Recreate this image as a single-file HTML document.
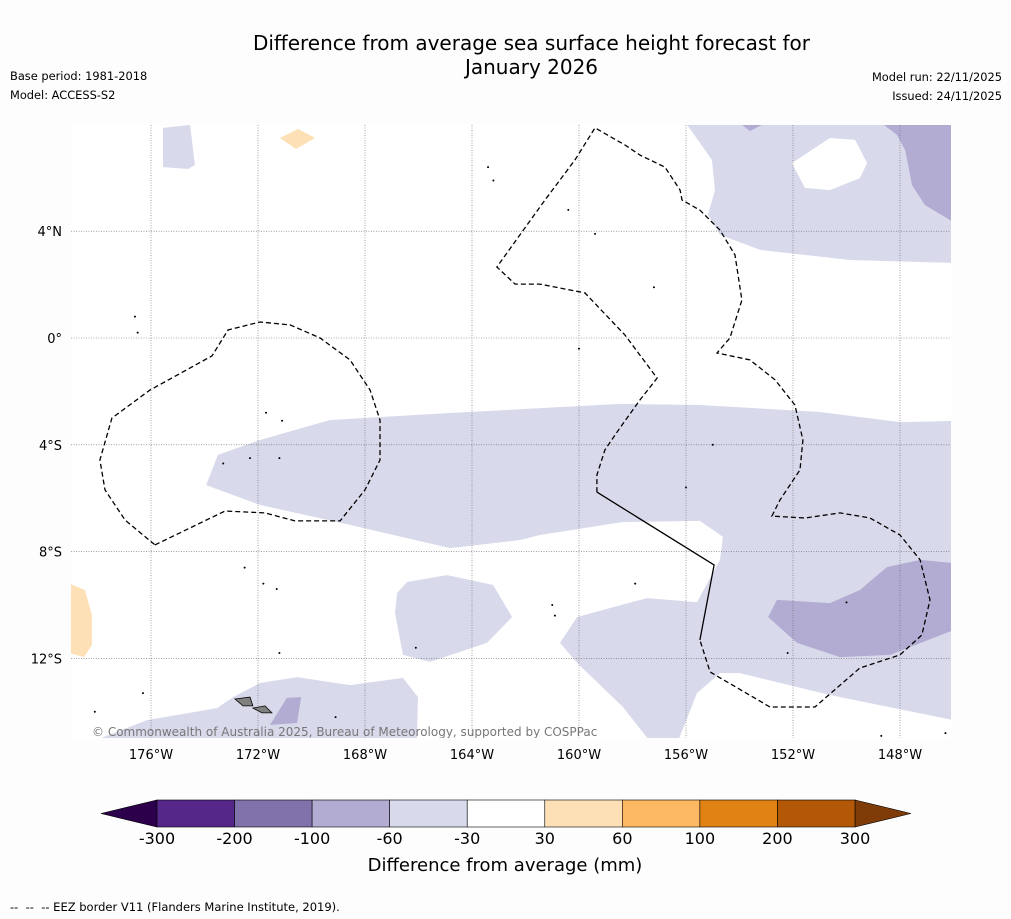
<!DOCTYPE html>
<html><head><meta charset="utf-8"><style>
body{margin:0;background:#fdfdfd;font-family:"Liberation Sans","DejaVu Sans",sans-serif;}
#wrap{position:relative;width:1011px;height:919px;overflow:hidden;background:#fdfdfd}
.t{position:absolute;color:#000;white-space:nowrap}
</style></head><body>
<div id="wrap">
<div class="t" style="left:0;width:1063px;text-align:center;top:31px;font-size:20px;line-height:24px;font-family:'DejaVu Sans',sans-serif">Difference from average sea surface height forecast for<br>January 2026</div>
<div class="t" style="left:10px;top:69px;font-size:11.4px;font-family:'DejaVu Sans',sans-serif">Base period: 1981-2018</div>
<div class="t" style="left:10px;top:88px;font-size:11.4px;font-family:'DejaVu Sans',sans-serif">Model: ACCESS-S2</div>
<div class="t" style="right:9px;top:70px;font-size:11.4px;font-family:'DejaVu Sans',sans-serif">Model run: 22/11/2025</div>
<div class="t" style="right:9px;top:89px;font-size:11.4px;font-family:'DejaVu Sans',sans-serif">Issued: 24/11/2025</div>
<svg id="svg" width="1011" height="919" style="position:absolute;left:0;top:0"></svg>
<div class="t" style="left:10px;top:900px;font-size:11.5px;font-family:'DejaVu Sans',sans-serif">--&nbsp; --&nbsp; -- EEZ border V11 (Flanders Marine Institute, 2019).</div>
</div>
<script>
const lonTicks=[-176,-172,-168,-164,-160,-156,-152,-148];
const latTicks=[4,0,-4,-8,-12];
const lonLabels=["176°W","172°W","168°W","164°W","160°W","156°W","152°W","148°W"];
const latLabels=["4°N","0°","4°S","8°S","12°S"];
const cbLevels=[-300,-200,-100,-60,-30,30,60,100,200,300];
const cbColors=["#542788","#8073ac","#b2abd2","#d8daeb","#ffffff","#fee0b6","#fdb863","#e08214","#b35806"];
const cbUnder="#2d004b", cbOver="#7f3b08";
const polyLight=[
 [[-173.94,-5.51],[-173.5,-4.38],[-171.93,-3.82],[-169.31,-3.07],[-164.82,-2.81],[-158.47,-2.47],[-155.48,-2.51],[-151.0,-2.77],[-148.0,-3.15],[-146.0,-3.11],[-146.0,-14.31],[-150.62,-13.37],[-153.98,-12.55],[-154.73,-12.55],[-155.59,-13.3],[-156.3,-15.1],[-157.35,-15.1],[-158.36,-13.82],[-160.07,-12.17],[-160.71,-11.42],[-160.07,-10.45],[-157.46,-9.74],[-155.59,-9.89],[-154.73,-8.31],[-154.62,-7.45],[-155.48,-6.85],[-158.36,-6.89],[-161.46,-7.38],[-162.21,-7.57],[-164.82,-7.87],[-168.56,-7.0],[-171.93,-6.25]],
 [[-156.04,8.1],[-155.03,6.67],[-154.92,5.54],[-155.18,4.61],[-154.73,3.86],[-153.23,3.3],[-149.87,2.92],[-146.0,2.81],[-146.0,8.1]],
 [[-175.55,7.87],[-174.54,7.98],[-174.36,6.48],[-174.62,6.33],[-175.55,6.4]],
 [[-166.8,-9.55],[-166.43,-9.14],[-164.93,-8.88],[-163.21,-9.25],[-162.5,-10.45],[-163.44,-11.42],[-165.57,-12.13],[-166.58,-11.87],[-166.88,-10.3]],
 [[-178.17,-15.1],[-176.15,-14.31],[-173.53,-13.86],[-172.93,-13.45],[-171.93,-12.92],[-170.54,-12.7],[-168.56,-13.0],[-166.58,-12.73],[-166.02,-13.45],[-166.06,-15.1]]
];
const polyWhite=[[[-152.04,6.55],[-150.62,7.49],[-149.68,7.42],[-149.23,6.55],[-149.5,5.99],[-150.62,5.54],[-151.55,5.62]]];
const polyMed=[
 [[-152.93,-10.45],[-152.6,-9.81],[-150.62,-9.93],[-149.5,-9.44],[-148.49,-8.58],[-147.25,-8.31],[-146.0,-8.43],[-146.0,-10.94],[-148.37,-11.87],[-150.24,-11.95],[-151.85,-11.42]],
 [[-148.75,8.1],[-148.11,7.6],[-147.81,7.04],[-147.55,5.73],[-147.07,4.98],[-146.0,4.34],[-146.0,8.1]],
 [[-154.06,8.1],[-153.61,7.75],[-152.93,8.1]],
 [[-171.55,-14.49],[-170.92,-13.48],[-170.39,-13.45],[-170.54,-14.42]]
];
const polyOrange=[
 [[-171.18,7.49],[-170.5,7.83],[-169.87,7.49],[-170.58,7.08]],
 [[-179.2,-9.14],[-178.47,-9.44],[-178.21,-10.37],[-178.21,-11.5],[-178.5,-11.95],[-179.2,-11.76]]
];
const islands=[[[-172.86,-13.52],[-172.3,-13.45],[-172.19,-13.78],[-172.56,-13.78]],[[-172.19,-13.86],[-171.74,-13.78],[-171.48,-14.04],[-171.85,-14.04]]];
const eezLeft=[[-175.85,-7.75],[-173.23,-6.48],[-171.74,-6.55],[-170.62,-6.85],[-168.93,-6.85],[-168.0,-5.69],[-167.44,-4.57],[-167.44,-3.07],[-167.81,-1.95],[-168.56,-0.82],[-169.68,0],[-170.8,0.49],[-171.93,0.6],[-173.12,0.3],[-173.72,-0.67],[-176.04,-1.95],[-177.46,-3.0],[-177.91,-4.57],[-177.72,-5.69],[-176.97,-6.82],[-175.85,-7.75]];
const eezMid=[[-159.33,-5.77],[-159.33,-5.13],[-159.03,-4.19],[-158.47,-3.37],[-157.72,-2.32],[-157.08,-1.5],[-158.28,0.11],[-159.78,1.69],[-161.46,2.02],[-162.39,2.02],[-163.07,2.66],[-162.21,3.86],[-161.27,5.17],[-160.15,6.67],[-159.4,7.87],[-158.28,7.23],[-157.72,6.85],[-156.79,6.4],[-156.22,5.54],[-156.15,5.17],[-155.48,4.79],[-154.73,4.04],[-154.17,3.11],[-153.91,1.42],[-154.36,0],[-154.84,-0.56],[-153.61,-0.82],[-152.67,-1.57],[-151.93,-2.51],[-151.63,-3.82],[-151.74,-4.94],[-152.49,-6.07],[-152.79,-6.67],[-151.55,-6.74],[-150.24,-6.55],[-149.12,-6.74],[-148.0,-7.38],[-147.25,-8.31],[-146.88,-9.81],[-147.18,-11.12],[-148.0,-11.87],[-149.5,-12.36],[-151.18,-13.82],[-152.86,-13.82],[-155.1,-12.51],[-155.48,-11.31]];
const borderSolid=[[-159.33,-5.77],[-154.95,-8.5],[-155.48,-11.31]];
const dots=[[-176.6,0.8],[-176.5,0.2],[-171.7,-2.8],[-171.1,-3.1],[-172.3,-4.5],[-171.2,-4.5],[-173.3,-4.7],[-163.4,6.4],[-163.2,5.9],[-160.4,4.8],[-159.4,3.9],[-157.2,1.9],[-160.0,-0.4],[-155.0,-4.0],[-156.0,-5.6],[-172.5,-8.6],[-171.8,-9.2],[-171.3,-9.4],[-171.2,-11.8],[-166.1,-11.6],[-161.0,-10.0],[-160.9,-10.4],[-157.9,-9.2],[-150.0,-9.9],[-152.2,-11.8],[-176.3,-13.3],[-178.1,-14.0],[-169.1,-14.2],[-148.7,-14.9],[-146.3,-14.8]];

const X=lon=>151+(lon+176)*26.75, Y=lat=>338-lat*26.7;
const L=71,R=951,T=125,B=738;
const svg=document.getElementById('svg');
const NS='http://www.w3.org/2000/svg';
function mk(tag,at,parent){const e=document.createElementNS(NS,tag);for(const k in at)e.setAttribute(k,at[k]);(parent||svg).appendChild(e);return e;}
const pts=p=>p.map(q=>X(q[0]).toFixed(1)+','+Y(q[1]).toFixed(1)).join(' ');
const defs=mk('defs',{});const cp=mk('clipPath',{id:'clip'},defs);mk('rect',{x:L,y:T,width:R-L,height:B-T},cp);
const g=mk('g',{'clip-path':'url(#clip)'});


mk('rect',{x:L,y:T,width:R-L,height:B-T,fill:'#ffffff'},g);
function fillPolys(arr,col,name){arr.forEach(p=>{const e=mk('polygon',{points:pts(p),fill:col},g);

});}
fillPolys(polyLight,cbColors[3],'anomaly-region-light');
fillPolys(polyWhite,'#ffffff','anomaly-region-neutral');
fillPolys(polyMed,cbColors[2],'anomaly-region-medium');
fillPolys(polyOrange,cbColors[5],'anomaly-region-positive');
lonTicks.forEach(v=>{const e=mk('line',{x1:X(v),x2:X(v),y1:T,y2:B,stroke:'#666','stroke-width':0.6,'stroke-dasharray':'1,1.5'},g);

});
latTicks.forEach(v=>{const e=mk('line',{x1:L,x2:R,y1:Y(v),y2:Y(v),stroke:'#666','stroke-width':0.6,'stroke-dasharray':'1,1.5'},g);

});
islands.forEach(p=>{const e=mk('polygon',{points:pts(p),fill:'#808080',stroke:'#000','stroke-width':0.8},g);

});
dots.forEach(d=>{const e=mk('circle',{cx:X(d[0]),cy:Y(d[1]),r:1,fill:'#000'},g);

});
[eezLeft,eezMid].forEach(p=>{const e=mk('polyline',{points:pts(p),fill:'none',stroke:'#000','stroke-width':1.3,'stroke-dasharray':'5,3'},g);

});
{const e=mk('polyline',{points:pts(borderSolid),fill:'none',stroke:'#000','stroke-width':1.3},g);

}
{const e=mk('text',{x:92,y:736,'font-size':12,fill:'#777','font-family':'DejaVu Sans, sans-serif'},g);e.textContent='© Commonwealth of Australia 2025, Bureau of Meteorology, supported by COSPPac';

}
lonTicks.forEach((v,i)=>{const e=mk('text',{x:X(v),y:759,'font-size':13,'text-anchor':'middle','font-family':'DejaVu Sans, sans-serif'});e.textContent=lonLabels[i];

});
latTicks.forEach((v,i)=>{const e=mk('text',{x:62,y:Y(v)+5,'font-size':13,'text-anchor':'end','font-family':'DejaVu Sans, sans-serif'});e.textContent=latLabels[i];

});
const cbL=157,cbR=855,cbT=800,cbB=827,n=cbColors.length,w=(cbR-cbL)/n;
{const e=mk('polygon',{points:`${cbL},${cbT} ${cbL},${cbB} 101,${(cbT+cbB)/2}`,fill:cbUnder,stroke:'#000','stroke-width':0.6});

}
{const e=mk('polygon',{points:`${cbR},${cbT} ${cbR},${cbB} 911,${(cbT+cbB)/2}`,fill:cbOver,stroke:'#000','stroke-width':0.6});

}
cbColors.forEach((c,i)=>{const e=mk('rect',{x:cbL+i*w,y:cbT,width:w,height:cbB-cbT,fill:c,stroke:'#000','stroke-width':0.6});

});
cbLevels.forEach((v,i)=>{const e=mk('text',{x:cbL+i*w,y:844,'font-size':16,'text-anchor':'middle','font-family':'DejaVu Sans, sans-serif'});e.textContent=v;

});
{const e=mk('text',{x:505,y:871,'font-size':18,'text-anchor':'middle','font-family':'DejaVu Sans, sans-serif'});e.textContent='Difference from average (mm)';

}
</script>
</body></html>
